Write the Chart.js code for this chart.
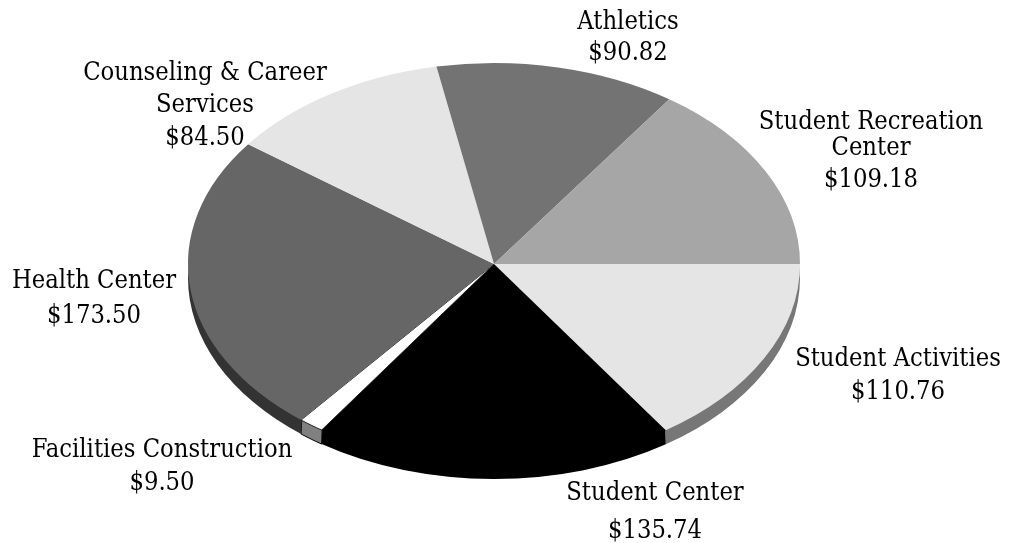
<!DOCTYPE html>
<html>
<head>
<meta charset="utf-8">
<style>
  html, body { margin: 0; padding: 0; background: #fff; }
  canvas { display: block; }
</style>
<script src="https://cdn.jsdelivr.net/npm/chart.js@4"></script>
</head>
<body>
<canvas id="feesChart" width="1010" height="543"></canvas>
<script>
// --- DATA ---
const categories = ['Student Activities', 'Student Center', 'Facilities Construction', 'Health Center', 'Counseling & Career Services', 'Athletics', 'Student Recreation Center'];
const fees = [110.76, 135.74, 9.50, 173.50, 84.50, 90.82, 109.18];

// --- STYLES ---
const topColors = ['#e5e5e5', '#000000', '#ffffff', '#666666', '#e5e5e5', '#737373', '#a6a6a6'];
const sideColors = ['#777777', '#000000', '#808080', '#333333', '#e5e5e5', '#737373', '#a6a6a6'];
const borderWidths = [0, 0, 1, 0, 0, 0, 0];

// label text lines and where they sit: [centre x, baseline y of each line]
const labelLines = [
  ['Student Activities'], ['Student Center'], ['Facilities Construction'], ['Health Center'],
  ['Counseling & Career', 'Services'], ['Athletics'], ['Student Recreation', 'Center']
];
const labelX = [898, 655, 162, 94, 205, 628, 871];
const labelY = [
  [366, 399], [500, 538], [457, 490], [288, 323],
  [80, 112, 145], [29, 60], [129, 155, 187]
];

const RADIUS = 306;
const SQUASH = 201 / 306;  // tilt of the pie
const DEPTH = 14;

const tiltPlugin = {
  id: 'tilt',
  beforeDatasetsDraw(chart) {
    const ctx = chart.ctx;
    const arcs = chart.getDatasetMeta(0).data;

    // the rim: only the front half of the pie shows it
    arcs.forEach((arc, i) => {
      const from = Math.max(arc.startAngle, 0);
      const to = Math.min(arc.endAngle, Math.PI);
      if (from >= to) return;
      const rx = arc.outerRadius;
      const ry = rx * SQUASH;
      ctx.beginPath();
      // top edge tucked 1px under the slice so no white seam shows
      ctx.ellipse(arc.x, arc.y, rx - 1, ry - 1, 0, from, to);
      ctx.ellipse(arc.x, arc.y + DEPTH, rx, ry, 0, to, from, true);
      ctx.closePath();
      ctx.fillStyle = sideColors[i];
      ctx.fill();
      if (borderWidths[i] > 0) {
        ctx.strokeStyle = '#000';
        ctx.lineWidth = borderWidths[i];
        ctx.stroke();
      }
    });

    // squash the real slices that the library is about to draw
    ctx.save();
    ctx.translate(arcs[0].x, arcs[0].y);
    ctx.scale(1, SQUASH);
    ctx.translate(-arcs[0].x, -arcs[0].y);
  },
  afterDatasetsDraw(chart) {
    const ctx = chart.ctx;
    ctx.restore();

    ctx.save();
    ctx.fillStyle = '#000';
    ctx.textAlign = 'center';
    ctx.textBaseline = 'alphabetic';
    ctx.font = "25.3px 'DejaVu Serif Condensed', 'DejaVu Serif', serif";
    categories.forEach((name, i) => {
      const lines = labelLines[i].concat('$' + fees[i].toFixed(2));
      lines.forEach((line, k) => ctx.fillText(line, labelX[i], labelY[i][k]));
    });
    ctx.restore();
  }
};

new Chart(document.getElementById('feesChart').getContext('2d'), {
  type: 'pie',
  data: {
    labels: categories,
    datasets: [{
      data: fees,
      backgroundColor: topColors,
      borderColor: '#000',
      borderWidth: borderWidths,
      clip: false
    }]
  },
  options: {
    responsive: false,
    animation: false,
    rotation: 90,
    radius: RADIUS,
    layout: { padding: { right: 22, bottom: 15 } },
    plugins: {
      legend: { display: false },
      tooltip: { enabled: false }
    }
  },
  plugins: [tiltPlugin]
});
</script>
</body>
</html>
